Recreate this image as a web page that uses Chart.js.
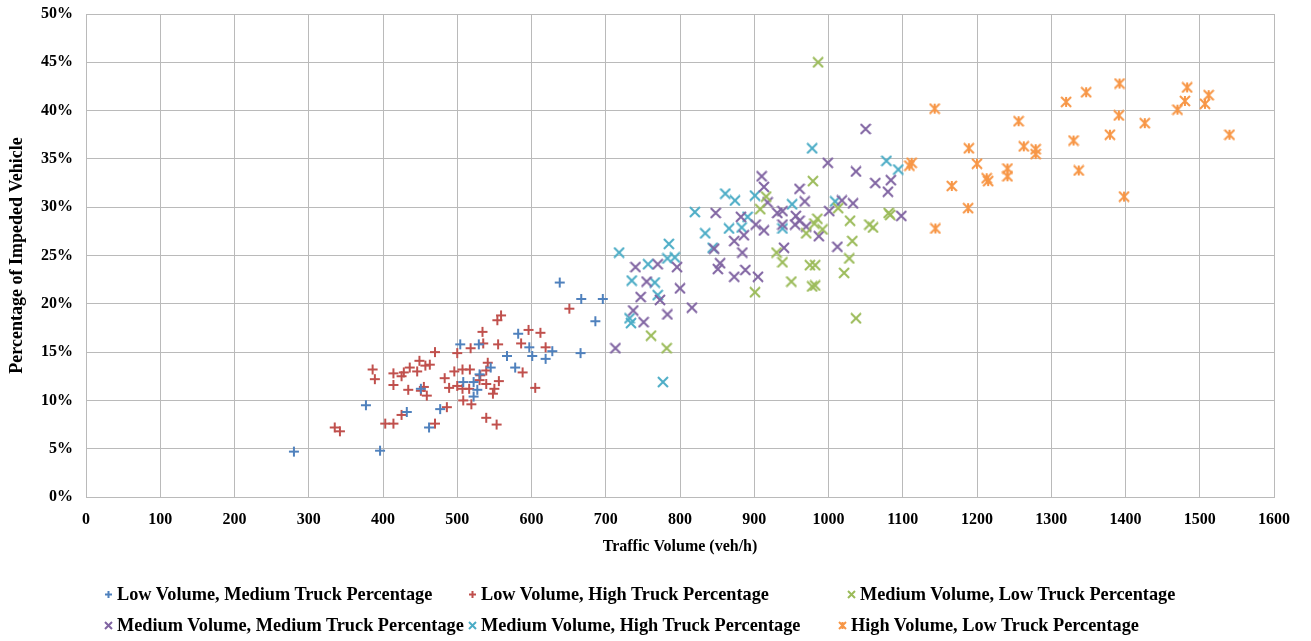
<!DOCTYPE html>
<html>
<head>
<meta charset="utf-8">
<script src="https://cdn.jsdelivr.net/npm/chart.js@4.4.1/dist/chart.umd.min.js"></script>
<style>
  body { margin: 0; background: #fff; }
  #wrap { position: relative; width: 1311px; height: 641px; }
  .leg { position: absolute; font: bold 18.3px "Liberation Serif", "Times New Roman", serif; color: #000; white-space: nowrap; line-height: 20px; }
  .leg canvas { position: absolute; left: -13px; top: 6px; }
</style>
</head>
<body>
<div id="wrap">
  <canvas id="grafico" width="1311" height="641"></canvas>
</div>
<script>
// Low Volume, Medium Truck Percentage
const lowMedVol = [280, 377, 396, 432, 462, 477, 451, 504, 529, 582, 597, 601, 567, 578, 545, 530, 508, 522, 527, 522, 638, 667, 696, 686, 666, 628, 619];
const lowMedPct = [4.7, 9.5, 4.8, 8.8, 7.2, 9.1, 11.2, 15.8, 15.8, 16.9, 15.5, 14.6, 14.6, 13.4, 13.4, 12.7, 11.9, 11.9, 11.1, 10.4, 22.2, 20.5, 20.5, 18.2, 14.9, 15.1, 14.3];

// Low Volume, High Truck Percentage
const lowHighVol = [559, 554, 534, 596, 612, 535, 555, 586, 518, 470, 500, 449, 463, 457, 436, 428, 425, 414, 446, 541, 539, 531, 517, 507, 496, 483, 556, 539, 414, 434, 455, 451, 459, 489, 500, 507, 516, 550, 548, 530, 605, 508, 519, 486, 425, 403, 414, 470, 539, 553, 588, 335, 342, 386, 389, 651, 619];
const lowHighPct = [18.8, 18.3, 17.1, 17.3, 17.0, 15.9, 15.8, 15.9, 15.4, 15.0, 14.9, 14.1, 13.7, 13.6, 13.4, 12.9, 12.5, 12.8, 13.0, 13.9, 13.1, 12.6, 13.2, 13.2, 13.0, 12.3, 12.0, 11.7, 11.6, 11.1, 11.4, 11.0, 10.5, 11.3, 11.5, 11.2, 11.2, 11.2, 10.7, 12.1, 11.3, 10.0, 9.6, 9.3, 8.5, 7.6, 7.6, 7.6, 8.2, 7.5, 12.9, 7.2, 6.8, 13.2, 12.2, 19.5, 15.5];

// Medium Volume, Low Truck Percentage
const medLowVol = [986, 979, 916, 908, 985, 981, 992, 970, 1013, 1029, 1055, 1060, 1032, 1028, 930, 938, 975, 982, 1021, 950, 978, 982, 901, 1037, 1081, 1083, 761, 782];
const medLowPct = [45.0, 32.7, 31.1, 29.8, 28.8, 28.3, 27.7, 27.3, 29.9, 28.6, 28.2, 27.9, 26.5, 24.7, 25.3, 24.3, 24.0, 24.0, 23.2, 22.3, 21.8, 21.9, 21.2, 18.5, 29.4, 29.2, 16.7, 15.4];

// Medium Volume, Medium Truck Percentage
const medMedVol = [740, 770, 796, 755, 800, 747, 773, 737, 783, 751, 816, 713, 913, 961, 968, 918, 882, 848, 886, 873, 884, 846, 854, 851, 888, 873, 905, 902, 913, 931, 938, 956, 961, 955, 970, 938, 987, 940, 1001, 1018, 1033, 1012, 1063, 1080, 1098, 1050, 999, 1037, 910, 1084];
const medMedPct = [23.8, 24.1, 23.8, 22.3, 21.6, 20.7, 20.4, 19.3, 18.9, 18.1, 19.6, 15.4, 32.1, 31.9, 30.6, 30.5, 29.0, 29.4, 27.1, 26.5, 25.3, 25.7, 24.2, 23.6, 23.5, 22.8, 22.8, 28.2, 27.6, 29.4, 29.6, 29.1, 28.6, 28.2, 28.0, 28.2, 27.0, 25.8, 29.6, 30.7, 30.4, 25.9, 32.5, 31.6, 29.1, 38.1, 34.6, 33.7, 33.2, 32.8];

// Medium Volume, High Truck Percentage
const medHighVol = [718, 785, 757, 783, 793, 735, 766, 770, 732, 734, 777, 861, 874, 901, 891, 866, 883, 834, 844, 951, 938, 1009, 820, 978, 1078, 1094];
const medHighPct = [25.3, 26.2, 24.1, 24.7, 24.8, 22.4, 22.2, 20.9, 18.5, 18.0, 11.9, 31.4, 30.7, 31.2, 29.0, 27.8, 27.9, 27.3, 25.8, 30.3, 27.8, 30.6, 29.5, 36.1, 34.8, 33.9];

// High Volume, Low Truck Percentage
const highLowVol = [1143, 1256, 1320, 1347, 1391, 1379, 1330, 1263, 1279, 1279, 1189, 1200, 1109, 1112, 1213, 1215, 1241, 1241, 1337, 1166, 1188, 1398, 1144, 1392, 1483, 1480, 1470, 1512, 1507, 1426, 1540];
const highLowPct = [40.2, 38.9, 40.9, 41.9, 39.5, 37.5, 36.9, 36.3, 36.0, 35.5, 36.1, 34.5, 34.3, 34.6, 33.0, 32.7, 34.0, 33.2, 33.8, 32.2, 29.9, 31.1, 27.8, 42.8, 42.4, 41.0, 40.1, 41.6, 40.7, 38.7, 37.5];

const xTicks = [0, 100, 200, 300, 400, 500, 600, 700, 800, 900, 1000, 1100, 1200, 1300, 1400, 1500, 1600];
const yTicks = [0, 5, 10, 15, 20, 25, 30, 35, 40, 45, 50];

// desenha o marcador de cada serie num canvas pequeno
function marcador(tipo, cor, tam) {
  const c = document.createElement('canvas');
  c.width = tam; c.height = tam;
  const ctx = c.getContext('2d');
  ctx.strokeStyle = cor;
  ctx.lineWidth = 2;
  const m = tam / 2, r = tam / 2 - 1;
  ctx.beginPath();
  if (tipo === 'plus') {
    ctx.moveTo(m - r, m); ctx.lineTo(m + r, m);
    ctx.moveTo(m, m - r); ctx.lineTo(m, m + r);
  } else {
    ctx.moveTo(m - r, m - r); ctx.lineTo(m + r, m + r);
    ctx.moveTo(m + r, m - r); ctx.lineTo(m - r, m + r);
    if (tipo === 'star') {
      ctx.moveTo(m, m - r); ctx.lineTo(m, m + r);
    }
  }
  ctx.stroke();
  return c;
}

const series = [
  { nome: 'Low Volume, Medium Truck Percentage', vol: lowMedVol, pct: lowMedPct, cor: '#4F81BD', tipo: 'plus' },
  { nome: 'Low Volume, High Truck Percentage', vol: lowHighVol, pct: lowHighPct, cor: '#C0504D', tipo: 'plus' },
  { nome: 'Medium Volume, Low Truck Percentage', vol: medLowVol, pct: medLowPct, cor: '#9BBB59', tipo: 'x' },
  { nome: 'Medium Volume, Medium Truck Percentage', vol: medMedVol, pct: medMedPct, cor: '#8064A2', tipo: 'x' },
  { nome: 'Medium Volume, High Truck Percentage', vol: medHighVol, pct: medHighPct, cor: '#4BACC6', tipo: 'x' },
  { nome: 'High Volume, Low Truck Percentage', vol: highLowVol, pct: highLowPct, cor: '#F79646', tipo: 'star' }
];

const fonte = { family: '"Liberation Serif", "Times New Roman", serif', weight: 'bold', size: 16 };

new Chart(document.getElementById('grafico'), {
  type: 'scatter',
  data: {
    datasets: series.map(s => ({
      label: s.nome,
      data: s.vol.map((v, i) => ({ x: v, y: s.pct[i] })),
      pointStyle: marcador(s.tipo, s.cor, 12),
      pointRadius: 6,
      borderColor: s.cor,
      backgroundColor: s.cor
    }))
  },
  options: {
    responsive: false,
    animation: false,
    layout: { padding: { top: 14, right: 37, bottom: 74, left: 0 } },
    plugins: { legend: { display: false }, tooltip: { enabled: false } },
    scales: {
      x: {
        type: 'linear', min: 0, max: 1600,
        afterBuildTicks: s => { s.ticks = xTicks.map(v => ({ value: v })); },
        afterFit: s => { s.height = 70; s.paddingLeft = 0; s.paddingRight = 0; },
        grid: { color: '#bababa', drawTicks: false },
        border: { color: '#bababa' },
        ticks: { color: '#000', font: fonte, padding: 13, maxRotation: 0, callback: v => String(v) },
        title: { display: true, text: 'Traffic Volume (veh/h)', color: '#000', font: fonte, padding: { bottom: 11 } }
      },
      y: {
        type: 'linear', min: 0, max: 50,
        afterBuildTicks: s => { s.ticks = yTicks.map(v => ({ value: v })); },
        afterFit: s => { s.width = 86; s.paddingTop = 0; s.paddingBottom = 0; },
        grid: { color: '#bababa', drawTicks: false },
        border: { color: '#bababa' },
        ticks: { color: '#000', font: fonte, padding: 13, callback: v => v + '%' },
        title: { display: true, text: 'Percentage of Impeded Vehicle', color: '#000', font: { ...fonte, size: 18 }, padding: { top: 7 } }
      }
    }
  }
});

// legenda em HTML, tres colunas por linha
const posLegenda = [[117, 584], [481, 584], [860, 584], [117, 615], [481, 615], [851, 615]];
const wrap = document.getElementById('wrap');
series.forEach((s, i) => {
  const d = document.createElement('div');
  d.className = 'leg';
  d.style.left = posLegenda[i][0] + 'px';
  d.style.top = posLegenda[i][1] + 'px';
  d.appendChild(marcador(s.tipo, s.cor, 9));
  d.appendChild(document.createTextNode(s.nome));
  wrap.appendChild(d);
});
</script>
</body>
</html>
